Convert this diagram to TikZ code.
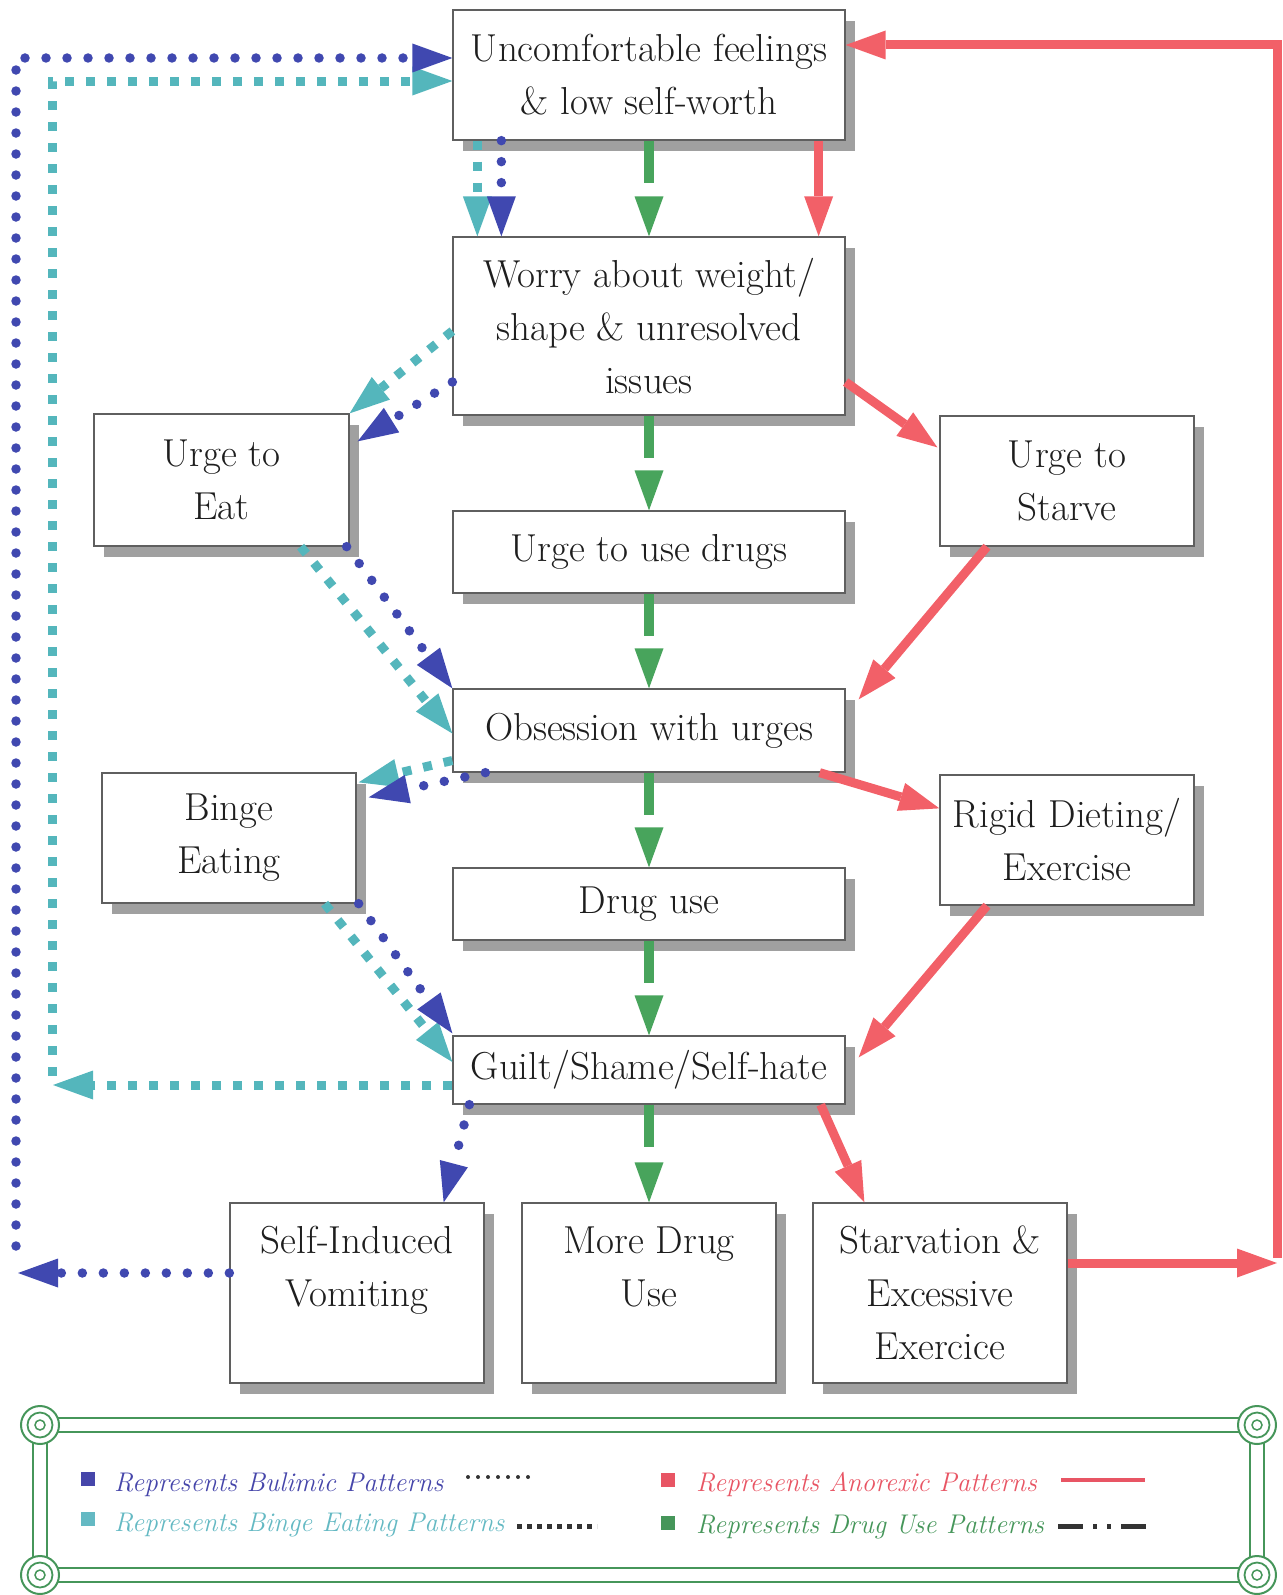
\documentclass[tikz,border=0pt]{standalone}
\usepackage{fontspec}
\usetikzlibrary{arrows.meta,shadows}
\definecolor{bulc}{RGB}{64,72,176}
\definecolor{bngc}{RGB}{84,182,188}
\definecolor{anoc}{RGB}{242,96,104}
\definecolor{drgc}{RGB}{72,164,92}
\definecolor{frm}{RGB}{70,150,90}
\definecolor{shd}{RGB}{160,160,160}
\definecolor{bdr}{RGB}{95,95,95}
\definecolor{txt}{RGB}{30,30,30}
\definecolor{lbul}{RGB}{70,70,170}
\definecolor{lbng}{RGB}{100,185,195}
\definecolor{lano}{RGB}{232,85,100}
\definecolor{ldrg}{RGB}{70,150,90}
\begin{document}
\begin{tikzpicture}[x=1pt,y=-1pt,
  >={Triangle[length=40pt,width=29pt,line width=0pt]},
  box/.style={draw=bdr,line width=1.3pt,fill=white,inner sep=0pt,align=center,text=txt,
    font=\fontsize{39}{53}\selectfont\addfontfeatures{FakeBold=0.3},
    drop shadow={shadow xshift=10pt,shadow yshift=-11pt,fill=shd,opacity=1}},
  bul/.style={draw=bulc,line width=9.5pt,line cap=round,dash pattern=on 0pt off 21pt,->},
  bng/.style={draw=bngc,line width=9pt,dash pattern=on 9pt off 12pt,->},
  ano/.style={draw=anoc,line width=9pt,->},
  drg/.style={draw=drgc,line width=10pt,dash pattern=on 42pt off 30pt,->},
  lsq/.style={minimum size=14pt,inner sep=0pt},
  ltx/.style={anchor=base west,inner sep=0pt,font=\fontsize{27}{30}\selectfont\itshape},
]
\useasboundingbox (0,0) rectangle (1282,1595);

% boxes
\node[box,minimum width=392pt,minimum height=130pt] (unc) at (649,75) {Uncomfortable feelings\\ \& low self-worth};
\node[box,minimum width=392pt,minimum height=178pt] (worry) at (649,326) {Worry about weight/\\ shape \& unresolved\\ issues};
\node[box,minimum width=255pt,minimum height=132pt] (eat) at (221.5,480) {Urge to\\ Eat};
\node[box,minimum width=254pt,minimum height=130pt] (starve) at (1067,481) {Urge to\\ Starve};
\node[box,minimum width=392pt,minimum height=82pt] (drugs) at (649,552) {Urge to use drugs};
\node[box,minimum width=392pt,minimum height=83pt] (obs) at (649,730.5) {Obsession with urges};
\node[box,minimum width=254pt,minimum height=130pt] (binge) at (229,838) {Binge\\ Eating};
\node[box,minimum width=254pt,minimum height=130pt] (rigid) at (1067,840) {Rigid Dieting/\\ Exercise};
\node[box,minimum width=392pt,minimum height=72pt] (druguse) at (649,904) {Drug use};
\node[box,minimum width=392pt,minimum height=68pt] (guilt) at (649,1070) {Guilt/Shame/Self-hate};
\node[box,minimum width=254pt,minimum height=180pt] (vomit) at (357,1293) {Self-Induced\\ Vomiting\\ ~};
\node[box,minimum width=254pt,minimum height=180pt] (more) at (649,1293) {More Drug\\ Use\\ ~};
\node[box,minimum width=254pt,minimum height=180pt] (starv) at (940,1293) {Starvation \&\\ Excessive\\ Exercice};

% free ends
\coordinate (bulL) at (18,1273);
\coordinate (bulV) at (16,1246);
\coordinate (bulC) at (16,58);
\coordinate (bngL) at (53,1085);
\coordinate (bngV) at (52,1076);
\coordinate (bngC) at (52,81);
\coordinate (anoR) at (1277,1263);
\coordinate (anoV) at (1277,1258);
\coordinate (anoC) at (1277,45);

% drug use (green)
\draw[drg] (unc.south) -- (worry.north);
\draw[drg] (worry.south) -- (drugs.north);
\draw[drg] (drugs.south) -- (obs.north);
\draw[drg] (obs.south) -- (druguse.north);
\draw[drg] (druguse.south) -- (guilt.north);
\draw[drg] (guilt.south) -- (more.north);

% anorexic (red)
\draw[ano] ([xshift=-27pt]unc.south east) -- ([xshift=-27pt]worry.north east);
\draw[ano] ([yshift=-56pt]worry.east) -- ([xshift=-2pt,yshift=-32pt]starve.north west);
\draw[ano] ([xshift=-80pt]starve.south) -- ([xshift=13pt,yshift=-11pt]obs.north east);
\draw[ano] ([xshift=-26pt]obs.south east) -- ([yshift=-34pt]rigid.north west);
\draw[ano] ([xshift=-80pt]rigid.south) -- ([xshift=13pt,yshift=-22pt]guilt.north east);
\draw[ano] ([xshift=-25pt]guilt.south east) -- ([xshift=52pt]starv.north west);
\draw[ano] ([yshift=30pt]starv.east) -- (anoR);
\draw[ano,line join=miter] (anoV) -- (anoC) -- ([yshift=30pt]unc.east);

% binge eating (cyan)
\draw[bng] ([xshift=25pt]unc.south west) -- ([xshift=25pt]worry.north west);
\draw[bng] ([yshift=-5pt]worry.west) -- (eat.north east);
\draw[bng] ([xshift=-49pt]eat.south east) -- ([yshift=-3pt]obs.west);
\draw[bng] ([yshift=-30pt]obs.west) -- ([xshift=2pt,yshift=-10pt]binge.north east);
\draw[bng] ([xshift=-32pt]binge.south east) -- ([yshift=8pt]guilt.west);
\draw[bng] ([yshift=-15pt]guilt.west) -- (bngL);
\draw[bng] (bngV) -- (bngC) -- ([yshift=-6pt]unc.west);

% bulimic (blue)
\draw[bul] ([xshift=49pt]unc.south west) -- ([xshift=49pt]worry.north west);
\draw[bul] ([yshift=-56pt]worry.west) -- ([xshift=8pt,yshift=-28pt]eat.north east);
\draw[bul] ([xshift=-3pt]eat.south east) -- (obs.north west);
\draw[bul] ([xshift=33pt]obs.south west) -- ([xshift=12pt,yshift=-25pt]binge.north east);
\draw[bul] ([xshift=2pt]binge.south east) -- ([yshift=2pt]guilt.north west);
\draw[bul] ([xshift=17pt]guilt.south west) -- ([xshift=-41pt]vomit.north east);
\draw[bul] ([yshift=20pt]vomit.west) -- (bulL);
\draw[bul] (bulV) -- (bulC) -- ([yshift=17pt]unc.west);

% legend frame
\draw[frm,line width=2.2pt] (33,1418) rectangle (1264,1582);
\draw[frm,line width=2.2pt] (47,1432) rectangle (1250,1568);
\foreach \cx/\cy in {40/1425,1257/1425,40/1575,1257/1575}{
  \draw[frm,line width=2pt,fill=white] (\cx,\cy) circle[radius=19pt];
  \draw[frm,line width=1.8pt] (\cx,\cy) circle[radius=12.5pt];
  \draw[frm,line width=1.5pt] (\cx,\cy) circle[radius=5pt];
}

% legend items
\node[lsq,fill=lbul] (sqB) at (88,1479) {};
\node[ltx,text=lbul] (tB) at (114,1491) {Represents Bulimic Patterns};
\node[lsq,fill=lbng] (sqE) at (88,1519) {};
\node[ltx,text=lbng] (tE) at (114,1531) {Represents Binge Eating Patterns};
\node[lsq,fill=lano] (sqA) at (668,1480) {};
\node[ltx,text=lano] (tA) at (696,1491) {Represents Anorexic Patterns};
\node[lsq,fill=ldrg] (sqD) at (668,1523) {};
\node[ltx,text=ldrg] (tD) at (696,1533) {Represents Drug Use Patterns};

\draw[black!80,line width=4pt,line cap=round,dash pattern=on 0pt off 10pt] (468,1477) -- (536,1477);
\draw[black!80,line width=5pt,dash pattern=on 5pt off 5pt] (517,1526) -- (597,1526);
\draw[lano,line width=4pt] (1061,1480) -- (1145,1480);
\draw[black!80,line width=5pt,dash pattern=on 25pt off 10pt on 4pt off 10pt on 4pt off 10pt on 25pt off 10pt] (1058,1526) -- (1147,1526);
\end{tikzpicture}
\end{document}
